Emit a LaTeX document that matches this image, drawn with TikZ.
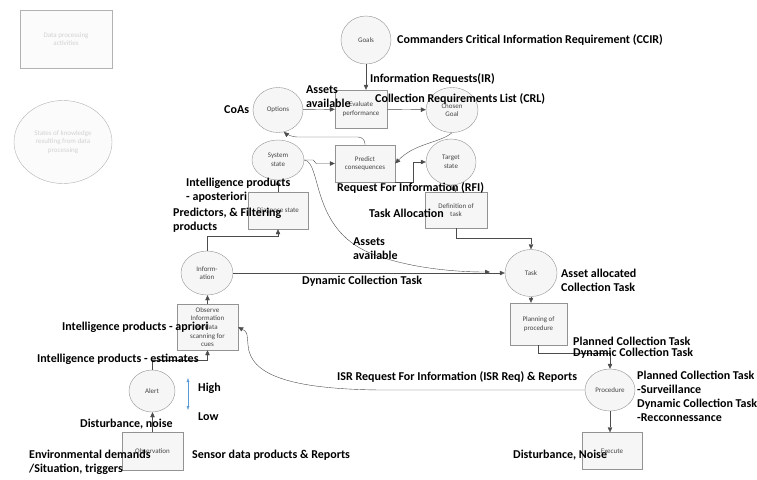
\documentclass[tikz,border=0pt]{standalone}
\usepackage{fontspec}
\setmainfont{Carlito}
\usetikzlibrary{shapes.geometric, arrows.meta}
\definecolor{levelblue}{HTML}{5B9BD5}
\tikzset{
    flow/.style={draw=gray!60!black, -{Triangle[length=5pt, width=4.5pt]}},
    activity/.style={draw=gray!85, fill=gray!7, inner sep=1pt, align=center,
        font=\fontsize{7}{8.6}\selectfont, text=gray!55!black},
    knowledge/.style={activity, ellipse},
    faded/.style={text=gray!35, draw=gray!60, fill=gray!3},
    note/.style={font=\bfseries\fontsize{12}{14}\selectfont, anchor=west,
        inner sep=0pt, align=left},
}

\begin{document}
\begin{tikzpicture}[x=1pt, y=-1pt]
        \useasboundingbox (0, 0) rectangle (757, 479); % Same size as the image

        \node[activity, faded, minimum width=92, minimum height=58] (keybox)
            at (66, 39) {Data processing\\activities}; % Legend
        \node[knowledge, faded, minimum width=98, minimum height=83] (keystate)
            at (63, 142) {States of knowledge\\resulting from data\\processing};

        \node[knowledge, minimum width=50, minimum height=48] (goals) at (366, 40) {Goals};
        \node[knowledge, minimum width=50, minimum height=45] (options) at (278, 110) {Options};
        \node[activity, minimum width=52, minimum height=38] (eval) at (361, 109)
            {Evaluate\\performance};
        \node[knowledge, minimum width=52, minimum height=45] (chosen) at (452, 110)
            {Chosen\\Goal};
        \node[knowledge, minimum width=52, minimum height=40] (sys) at (278, 160)
            {System\\state};
        \node[activity, minimum width=60, minimum height=37] (predict) at (365, 163.5)
            {Predict\\consequences};
        \node[knowledge, minimum width=50, minimum height=46] (target) at (451, 162)
            {Target\\state};
        \node[activity, minimum width=60, minimum height=37] (diag) at (278, 210.5)
            {Diagnose state};
        \node[activity, minimum width=62, minimum height=36] (def) at (456, 210)
            {Definition of\\task};
        \node[knowledge, minimum width=52, minimum height=44] (info) at (207, 273)
            {Inform-\\ation};
        \node[knowledge, minimum width=52, minimum height=47] (task) at (531, 273) {Task};
        \node[activity, minimum width=57, minimum height=42] (plan) at (538.5, 324)
            {Planning of\\procedure};
        \node[activity, minimum width=61, minimum height=46] (obs) at (207.5, 327)
            {Observe\\Information\\or data\\scanning for\\cues};
        \node[knowledge, minimum width=50, minimum height=42] (proc) at (610, 390)
            {Procedure};
        \node[knowledge, minimum width=46, minimum height=42] (alert) at (152, 391) {Alert};
        \node[activity, minimum width=61, minimum height=38] (observ) at (152.5, 451)
            {Observation};
        \node[activity, minimum width=60, minimum height=37] (exec) at (612, 451) {Execute};

        \coordinate (high) at (188, 378); % Alert level
        \coordinate (low) at (188, 410);
        \coordinate (tasktail) at (490, 272);

        \foreach \a/\b in {goals/eval, task/plan, proc/exec}
            \draw[flow] (\a.south) -- (\a.south |- \b.north); % Downwards
        \foreach \a/\b in {observ/alert, obs/info, diag/sys}
            \draw[flow] (\a.north) -- (\a.north |- \b.south); % Upwards

        \draw[flow] (options) -- (eval);
        \draw[flow] (eval) -- (chosen);
        \draw[flow, rounded corners=7pt] (predict.north) |- (290, 137) -- (options.-75);
        \draw[flow] (chosen.south) .. controls (440, 143) and (415, 143) .. (predict.east);
        \draw[flow] (sys.east) -- ++(9, 0) -- ++(3, 3.5) -- (predict.west);
        \draw[flow] (sys.east) .. controls (322, 162) and (310, 228) .. (370, 253)
            .. controls (405, 267) and (450, 272) .. (tasktail);
        \draw[flow] (predict.south east) -- ++(18, 0) |- (target.west);
        \draw[flow] (target.south) -- (def.north);
        \draw[flow] (def.south) -- ++(0, 10) -| (task.north);
        \draw[flow] (plan.south) -- ++(0, 8) -| (proc.north);
        \draw[flow] (proc.west) -- (380, 390) .. controls (290, 389) and (250, 375)
            .. (248, 345) .. controls (247, 332) .. (obs.east); % Feedback
        \draw[flow] (info.north) -- ++(0, -15) -| (diag.south);
        \draw[flow] (info.east) -- (task.west);
        \draw[flow] (alert.north) -- ++(0, -10) -| (obs.south);
        \draw[levelblue, {Latex[length=4pt]}-{Latex[length=4pt]}] (high) -- (low);

        \node[note] (ccir) at (397, 40) {Commanders Critical Information Requirement (CCIR)};
        \node[note] (ir) at (370, 79) {Information Requests(IR)};
        \node[note] (crl) at (375, 99) {Collection Requirements List (CRL)};
        \node[note] (coas) at (224, 110) {CoAs};
        \node[note] (assetsup) at (306, 97) {Assets\\available};
        \node[note] (apost) at (186, 190) {Intelligence products\\ - aposteriori};
        \node[note] (predictors) at (173, 220) {Predictors, \& Filtering\\products};
        \node[note] (rfi) at (337, 188) {Request For Information (RFI)};
        \node[note] (alloc) at (369, 213) {Task Allocation};
        \node[note] (assetslow) at (353, 249) {Assets\\available};
        \node[note] (dyn) at (302, 281) {Dynamic Collection Task};
        \node[note] (allocated) at (561, 280) {Asset allocated\\Collection Task};
        \node[note, font=\bfseries\fontsize{12}{11}\selectfont] (planned) at (573, 347.5)
            {Planned Collection Task\\Dynamic Collection Task};
        \node[note] (modes) at (637, 396.5)
            {Planned Collection Task\\-Surveillance\\Dynamic Collection Task\\-Recconnessance};
        \node[note] (isr) at (337, 377) {ISR Request For Information (ISR Req) \& Reports};
        \node[note] (apriori) at (62, 327) {Intelligence products - apriori};
        \node[note] (estimates) at (37, 359) {Intelligence products - estimates};
        \node[note] (hightxt) at (198, 388) {High};
        \node[note] (lowtxt) at (198, 417) {Low};
        \node[note] (noise) at (80, 424) {Disturbance, noise};
        \node[note] (env) at (29, 462) {Environmental demands\\/Situation, triggers};
        \node[note] (sensor) at (192, 455) {Sensor data products \& Reports};
        \node[note] (noiseexec) at (513, 455) {Disturbance, Noise};
    \end{tikzpicture}
\end{document}
